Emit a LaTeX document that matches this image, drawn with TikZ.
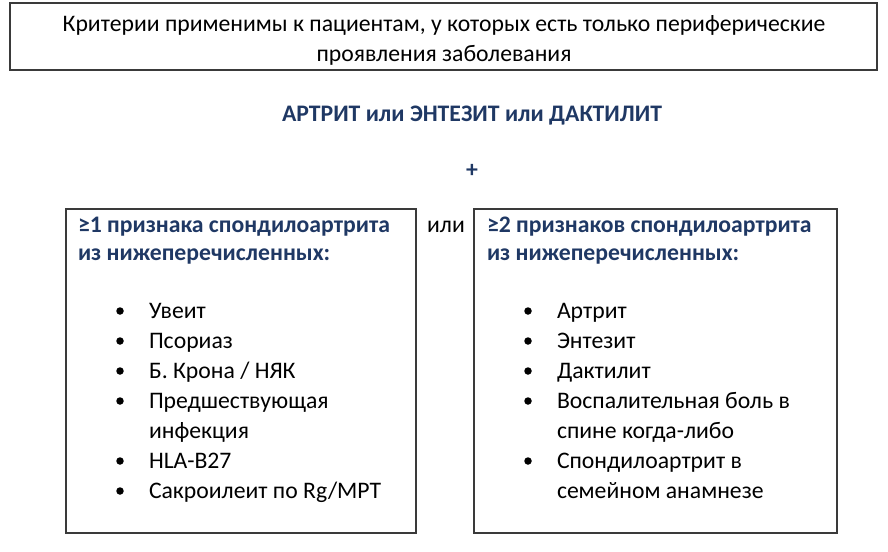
\documentclass[tikz,border=0pt]{standalone}
\usepackage{fontspec}
\setmainfont{Carlito}
\definecolor{hdblue}{HTML}{1F3864}
\definecolor{boxline}{HTML}{3A3A3A}
\begin{document}
\begin{tikzpicture}[x=1pt,y=-1pt,
  every node/.style={inner sep=0pt, outer sep=0pt},
  txt/.style={font=\fontsize{23.7}{30}\selectfont, text=black},
  hd/.style={font=\fontsize{23.7}{30}\selectfont\bfseries, text=hdblue},
  bul/.style={circle, fill=black, minimum size=7.5pt, inner sep=0pt},
  frame/.style={draw=boxline, line width=1.2pt}]
\useasboundingbox (0,0) rectangle (888,551);
% top box
\draw[frame] (10,3) rectangle (877,70);
\node[txt, anchor=base] (t1) at (444,32) {Критерии применимы к пациентам, у которых есть только периферические};
\node[txt, anchor=base] (t2) at (444,62) {проявления заболевания};
% title
\node[hd, anchor=base] (title) at (472,121) {АРТРИТ или ЭНТЕЗИТ или ДАКТИЛИТ};
\node[hd, anchor=base] (plus) at (472,177) {+};
% boxes
\draw[frame] (66,209) rectangle (416,533);
\draw[frame] (474,209) rectangle (837,533);
\node[txt, anchor=base] (ili) at (446,232) {или};
% left header
\node[hd, anchor=base west] (lh1) at (78,232) {≥1 признака спондилоартрита};
\node[hd, anchor=base west] (lh2) at (78,260) {из нижеперечисленных:};
% right header
\node[hd, anchor=base west] (rh1) at (487,232) {≥2 признаков спондилоартрита};
\node[hd, anchor=base west] (rh2) at (487,260) {из нижеперечисленных:};
% left items
\foreach \y/\t/\b [count=\i] in {318/{Увеит}/1, 348/{Псориаз}/1, 378/{Б. Крона / НЯК}/1, 408/{Предшествующая}/1, 438/{инфекция}/0, 468/{HLA-B27}/1, 498/{Сакроилеит по Rg/МРТ}/1}{
  \node[txt, anchor=base west] (li\i) at (149,\y) {\t};
  \ifnum\b=1 \node[bul] (lb\i) at (120,\y-7) {}; \fi
}
% right items
\foreach \y/\t/\b [count=\i] in {318/{Артрит}/1, 348/{Энтезит}/1, 378/{Дактилит}/1, 408/{Воспалительная боль в}/1, 438/{спине когда-либо}/0, 468/{Спондилоартрит в}/1, 498/{семейном анамнезе}/0}{
  \node[txt, anchor=base west] (ri\i) at (557,\y) {\t};
  \ifnum\b=1 \node[bul] (rb\i) at (528,\y-7) {}; \fi
}
\end{tikzpicture}
\end{document}
